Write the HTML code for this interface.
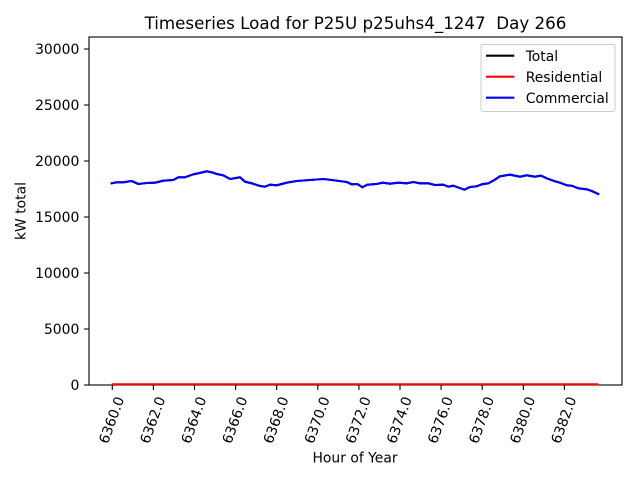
<!DOCTYPE html>
<html>
<head>
<meta charset="utf-8">
<style>
  html, body { margin: 0; padding: 0; background: #ffffff; }
  svg { display: block; }
  text { font-family: "DejaVu Sans", "Liberation Sans", sans-serif; fill: #000; }
</style>
</head>
<body>
<svg width="640" height="480" viewBox="0 0 640 480" xmlns="http://www.w3.org/2000/svg">
  <rect x="0" y="0" width="640" height="480" fill="#ffffff"/>

  <!-- Title -->
  <text x="355.5" y="29" font-size="16.7" text-anchor="middle" xml:space="preserve">Timeseries Load for P25U p25uhs4_1247  Day 266</text>

  <!-- Series: Total (black, under blue) -->
  <polyline fill="none" stroke="#000000" stroke-width="2.1" stroke-linejoin="round" stroke-linecap="square"
    points="111.7,183.3 116.7,182.3 123.3,182.3 131.7,181 138.3,184 146.7,183 155,182.7 163.3,180.7 173.3,180 178.3,177.3 185,177.3 193.3,174.3 198.3,173.3 206.7,171.3 211.7,172.3 216.7,174 223.3,175.3 230,179 240,177.3 245,181.7 251.7,183.3 260,186 265,186.7 270,184.7 276.7,185.3 286.7,182.7 296.7,181 310,180 323.3,179 331.7,180 346.7,182 351.7,184.3 357.3,184 362.3,187.3 367.3,184.7 376.7,184 382.7,182.7 390,183.7 398.3,182.7 406.7,183.3 413.3,182 420,183.3 428.3,183.3 435,185 443.3,184.7 448.3,186.7 453.3,185.7 464.3,189.7 470,187 476.7,186.3 481.7,184.3 488.3,183.3 493.3,180.7 500,176.3 510,174.7 520,176.7 526.7,175.3 535,176.7 541,175.7 546.7,178.3 553.3,180.7 560,182.7 566.7,185.3 571.7,185.7 578.3,188.3 586.7,189.3 591.7,191 598.3,194"/>

  <!-- Series: Commercial (blue) -->
  <polyline fill="none" stroke="#0000ff" stroke-width="2.1" stroke-linejoin="round" stroke-linecap="square"
    points="111.7,183.3 116.7,182.3 123.3,182.3 131.7,181 138.3,184 146.7,183 155,182.7 163.3,180.7 173.3,180 178.3,177.3 185,177.3 193.3,174.3 198.3,173.3 206.7,171.3 211.7,172.3 216.7,174 223.3,175.3 230,179 240,177.3 245,181.7 251.7,183.3 260,186 265,186.7 270,184.7 276.7,185.3 286.7,182.7 296.7,181 310,180 323.3,179 331.7,180 346.7,182 351.7,184.3 357.3,184 362.3,187.3 367.3,184.7 376.7,184 382.7,182.7 390,183.7 398.3,182.7 406.7,183.3 413.3,182 420,183.3 428.3,183.3 435,185 443.3,184.7 448.3,186.7 453.3,185.7 464.3,189.7 470,187 476.7,186.3 481.7,184.3 488.3,183.3 493.3,180.7 500,176.3 510,174.7 520,176.7 526.7,175.3 535,176.7 541,175.7 546.7,178.3 553.3,180.7 560,182.7 566.7,185.3 571.7,185.7 578.3,188.3 586.7,189.3 591.7,191 598.3,194"/>

  <!-- Axes frame -->
  <rect x="89" y="37" width="533" height="348" fill="none" stroke="#000" stroke-width="1.1"/>

  <!-- Series: Residential (red) drawn over the bottom spine -->
  <line x1="111.7" y1="384.2" x2="598.3" y2="384.2" stroke="#ff0000" stroke-width="2"/>

  <!-- Y ticks -->
  <g stroke="#000" stroke-width="1.1">
    <line x1="84.1" y1="385" x2="89" y2="385"/>
    <line x1="84.1" y1="329" x2="89" y2="329"/>
    <line x1="84.1" y1="273" x2="89" y2="273"/>
    <line x1="84.1" y1="217" x2="89" y2="217"/>
    <line x1="84.1" y1="161" x2="89" y2="161"/>
    <line x1="84.1" y1="105" x2="89" y2="105"/>
    <line x1="84.1" y1="49" x2="89" y2="49"/>
  </g>
  <g font-size="13.9" text-anchor="end">
    <text x="79.3" y="390">0</text>
    <text x="79.3" y="334">5000</text>
    <text x="79.3" y="278">10000</text>
    <text x="79.3" y="222">15000</text>
    <text x="79.3" y="166">20000</text>
    <text x="79.3" y="110">25000</text>
    <text x="79.3" y="54">30000</text>
  </g>

  <!-- X ticks -->
  <g stroke="#000" stroke-width="1.1">
    <line x1="112.3" y1="385" x2="112.3" y2="389.9"/>
    <line x1="153.4" y1="385" x2="153.4" y2="389.9"/>
    <line x1="194.5" y1="385" x2="194.5" y2="389.9"/>
    <line x1="235.6" y1="385" x2="235.6" y2="389.9"/>
    <line x1="276.7" y1="385" x2="276.7" y2="389.9"/>
    <line x1="317.8" y1="385" x2="317.8" y2="389.9"/>
    <line x1="358.9" y1="385" x2="358.9" y2="389.9"/>
    <line x1="400.0" y1="385" x2="400.0" y2="389.9"/>
    <line x1="441.1" y1="385" x2="441.1" y2="389.9"/>
    <line x1="482.2" y1="385" x2="482.2" y2="389.9"/>
    <line x1="523.3" y1="385" x2="523.3" y2="389.9"/>
    <line x1="564.4" y1="385" x2="564.4" y2="389.9"/>
  </g>
  <g font-size="13.9" text-anchor="middle" dominant-baseline="central">
    <text x="112.3" y="420.3" transform="rotate(-70 112.3 420.3)">6360.0</text>
    <text x="153.4" y="420.3" transform="rotate(-70 153.4 420.3)">6362.0</text>
    <text x="194.5" y="420.3" transform="rotate(-70 194.5 420.3)">6364.0</text>
    <text x="235.6" y="420.3" transform="rotate(-70 235.6 420.3)">6366.0</text>
    <text x="276.7" y="420.3" transform="rotate(-70 276.7 420.3)">6368.0</text>
    <text x="317.8" y="420.3" transform="rotate(-70 317.8 420.3)">6370.0</text>
    <text x="358.9" y="420.3" transform="rotate(-70 358.9 420.3)">6372.0</text>
    <text x="400.0" y="420.3" transform="rotate(-70 400.0 420.3)">6374.0</text>
    <text x="441.1" y="420.3" transform="rotate(-70 441.1 420.3)">6376.0</text>
    <text x="482.2" y="420.3" transform="rotate(-70 482.2 420.3)">6378.0</text>
    <text x="523.3" y="420.3" transform="rotate(-70 523.3 420.3)">6380.0</text>
    <text x="564.4" y="420.3" transform="rotate(-70 564.4 420.3)">6382.0</text>
  </g>

  <!-- Axis labels -->
  <text x="355" y="462.3" font-size="13.9" text-anchor="middle">Hour of Year</text>
  <text x="0" y="0" font-size="13.9" text-anchor="middle" transform="translate(25.5 211) rotate(-90)">kW total</text>

  <!-- Legend -->
  <rect x="481" y="44.5" width="134" height="67" rx="2.5" ry="2.5" fill="#ffffff" fill-opacity="0.8" stroke="#cccccc" stroke-width="1"/>
  <line x1="486" y1="55.7" x2="514.3" y2="55.7" stroke="#000000" stroke-width="2.1"/>
  <line x1="486" y1="76.7" x2="514.3" y2="76.7" stroke="#ff0000" stroke-width="2.1"/>
  <line x1="486" y1="97.7" x2="514.3" y2="97.7" stroke="#0000ff" stroke-width="2.1"/>
  <g font-size="13.9">
    <text x="525.7" y="60.8">Total</text>
    <text x="525.7" y="81.8">Residential</text>
    <text x="525.7" y="102.8">Commercial</text>
  </g>
</svg>
</body>
</html>
